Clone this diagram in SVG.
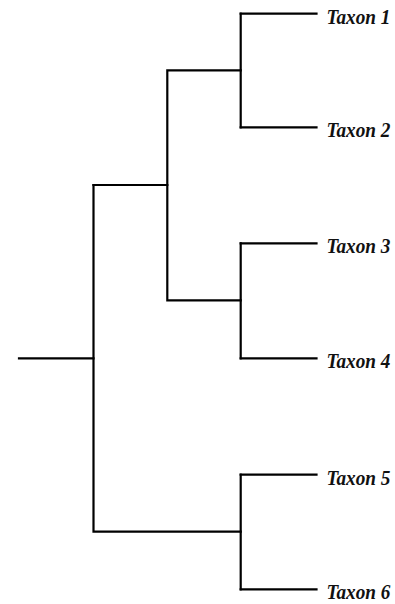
<svg xmlns="http://www.w3.org/2000/svg" width="395" height="604" viewBox="0 0 395 604">
<style>
.br{fill:none;stroke:#000;stroke-width:2.2;stroke-linecap:square;stroke-linejoin:miter}
.lb{font-family:"Liberation Serif","Times New Roman",serif;font-weight:bold;font-style:italic;font-size:20px;fill:#111}
</style>
<rect width="395" height="604" fill="#fff"/>
<g id="connectors">
<path class="br" d="M19,358.3 H93.5"/>
<path class="br" d="M93.5,185 V531.7 H240.7"/>
<path class="br" d="M93.5,185 H167.3"/>
<path class="br" d="M240.7,70.3 H167.3 V300.3 H240.7"/>
<path class="br" d="M240.7,13.7 V127.3"/>
<path class="br" d="M240.7,13.7 H316.5 M240.7,127.3 H316.5"/>
<path class="br" d="M240.7,243.3 V358.3"/>
<path class="br" d="M240.7,243.3 H316.5 M240.7,358.3 H316.5"/>
<path class="br" d="M240.7,474.7 V589.3"/>
<path class="br" d="M240.7,474.7 H316.5 M240.7,589.3 H316.5"/>
</g>
<g id="taxon1"><text class="lb" x="326.5" y="23.7" textLength="64" lengthAdjust="spacingAndGlyphs">Taxon 1</text></g>
<g id="taxon2"><text class="lb" x="326.5" y="137.3" textLength="64" lengthAdjust="spacingAndGlyphs">Taxon 2</text></g>
<g id="taxon3"><text class="lb" x="326.5" y="253.3" textLength="64" lengthAdjust="spacingAndGlyphs">Taxon 3</text></g>
<g id="taxon4"><text class="lb" x="326.5" y="368.3" textLength="64" lengthAdjust="spacingAndGlyphs">Taxon 4</text></g>
<g id="taxon5"><text class="lb" x="326.5" y="484.7" textLength="64" lengthAdjust="spacingAndGlyphs">Taxon 5</text></g>
<g id="taxon6"><text class="lb" x="326.5" y="599.3" textLength="64" lengthAdjust="spacingAndGlyphs">Taxon 6</text></g>
</svg>
